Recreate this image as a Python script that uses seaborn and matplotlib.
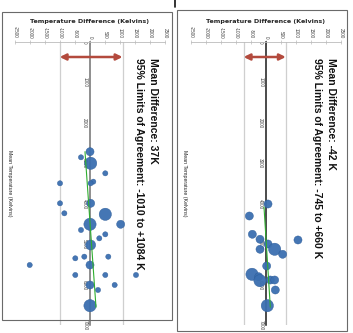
import numpy as np
import pandas as pd
import matplotlib
matplotlib.use("Agg")
import matplotlib.pyplot as plt
from matplotlib.patches import Rectangle
from matplotlib.lines import Line2D
import seaborn as sns

# ---------------- data ----------------
# Panel 1
p1_temp = [2713, 2852, 3000, 3248, 3495, 3455, 3495, 3990, 3990, 4237, 4262, 4509, 4650, 4509,
           4757, 4856, 5021, 5350, 5310, 5310, 5516, 5516, 5763, 5763, 5763, 6010, 6010, 6134, 6522]
p1_diff = [0, -300, 22, 510, -1000, 110, 20, -1000, 22, -855, 510, 1022, -300, 0,
           510, 310, 22, -490, -190, 610, -2010, 0, 1533, -490, 510, 822, 0, 267, 0]
p1_size = [2, 1, 3, 1, 1, 1, 1, 1, 2, 1, 3, 2, 1, 3,
           1, 1, 2.5, 1, 1, 1, 1, 2, 1, 1, 1, 1, 2, 1, 3]
p1_trend_temp = [2713, 6560]
p1_trend_diff = [-167, 200]
p1_mean = 37
p1_lo, p1_hi = -1010, 1084
p1_text = "Mean Difference: 37K\n95% Limits of Agreement: -1010 to +1084 K"

# Panel 2
p2_temp = [4007, 4304, 4756, 4897, 4880, 4996, 5127, 5127, 5251, 5540, 5746, 5805, 5904, 5887,
           5887, 6134, 6522]
p2_diff = [67, -555, -455, 1066, -200, 67, -200, 289, 555, 22, -466, -244, -200, 144,
           289, 311, 44]
p2_size = [2, 2, 2, 2, 2, 2, 2, 3, 2, 2, 3, 2, 3, 2, 2, 2, 3]
p2_trend_temp = [4080, 6560]
p2_trend_diff = [-67, 144]
p2_mean = -42
p2_lo, p2_hi = -745, 660
p2_text = "Mean Difference: -42 K\n95% Limits of Agreement: -745 to +660 K"

diff_ticks = [-2500, -2000, -1500, -1000, -500, 0, 500, 1000, 1500, 2000, 2500]
temp_ticks = [0, 1000, 2000, 3000, 4000, 5000, 6000, 7000]
x_title = "Temperature Difference (Kelvins)"
y_title = "Mean Temperature (Kelvins)"

# ---------------- style ----------------
sns.set_style("white")
plt.rcParams['font.family'] = ['Liberation Sans Narrow', 'Liberation Sans', 'DejaVu Sans']

W, H = 353, 333
fig = plt.figure(figsize=(W / 100, H / 100), dpi=100)

def fx(px):
    return px / W

def fy(py):
    return 1 - py / H

# panel frames
fig.patches.append(Rectangle((fx(2), fy(320)), fx(170), (318 - 10) / H, transform=fig.transFigure,
                             fill=False, edgecolor="#6a6a6a", lw=0.8, zorder=0))
fig.patches.append(Rectangle((fx(177), fy(331)), fx(170), (331 - 10) / H, transform=fig.transFigure,
                             fill=False, edgecolor="#6a6a6a", lw=0.8, zorder=0))
fig.lines.append(Line2D([fx(175), fx(175)], [fy(0), fy(7)], transform=fig.transFigure,
                        color="#111111", lw=1.2))

BLUE = "#3b6fb0"
SIZES = {1: 14, 2: 34, 2.5: 52, 3: 78}

def panel(left_px, temp, diff, size, t_temp, t_diff, lo, hi, text, zero_color, text_right_px, label_x_px):
    top, bottom = 42, 325
    width = 150
    ax = fig.add_axes([fx(left_px), fy(bottom), fx(width), (bottom - top) / H])
    ax.set_facecolor("none")
    df = pd.DataFrame({"diff": diff, "temp": temp, "size": size})
    # limit lines
    for v in (lo, hi):
        ax.axvline(v, color="#cfcfcf", lw=0.9, zorder=1)
    sns.scatterplot(data=df, x="diff", y="temp", size="size", sizes=SIZES, color=BLUE,
                    edgecolor="#2b5a96", linewidth=0.3, alpha=0.95, legend=False, ax=ax, zorder=3)
    sns.lineplot(x=t_diff, y=t_temp, color="#2fae2f", lw=0.8, ax=ax, zorder=4, sort=False)
    # arrow between the limits
    ax.annotate("", xy=(lo, 371), xytext=(hi, 371),
                arrowprops=dict(arrowstyle="<|-|>", color="#b34a3d", lw=1.8,
                                mutation_scale=9, shrinkA=0, shrinkB=0), zorder=5)
    ax.set_xlim(-2500, 2500)
    ax.set_ylim(7000, 0)
    # top axis
    ax.xaxis.tick_top()
    ax.xaxis.set_label_position('top')
    ax.set_xticks(diff_ticks)
    ax.set_xticklabels([str(t) for t in diff_ticks], rotation=270, fontsize=3.3, color="#444444")
    ax.tick_params(axis='x', direction='inout', length=2.5, width=0.4, color="#aaaaaa", pad=1.5)
    ax.set_xlabel(x_title, fontsize=4.6, fontweight='bold', labelpad=2.5,
                  family=['Liberation Sans Narrow', 'DejaVu Sans'])
    # zero line as left spine
    ax.spines['left'].set_position(('data', 0))
    ax.spines['left'].set_color(zero_color)
    ax.spines['left'].set_linewidth(1.1)
    ax.spines['left'].set_zorder(2)
    ax.spines['top'].set_color("#bbbbbb")
    ax.spines['top'].set_linewidth(0.6)
    ax.spines['right'].set_visible(False)
    ax.spines['bottom'].set_visible(False)
    ax.set_yticks(temp_ticks)
    ax.set_yticklabels([str(t) for t in temp_ticks], rotation=270, fontsize=3.3, color="#444444",
                       va='center')
    ax.tick_params(axis='y', length=0, pad=2)
    ax.set_ylabel("")
    # annotation text
    xr = -2500 + (text_right_px - left_px) / width * 5000
    ax.text(xr, 396, text, rotation=270, ha='right', va='top', fontsize=7.5,
            fontweight='bold', color="#111111", linespacing=1.5, multialignment='left',
            zorder=6)
    fig.text(fx(label_x_px), fy(183), y_title, rotation=270, ha='center', va='center',
             fontsize=3.8, color="#222222")
    return ax

panel(15, p1_temp, p1_diff, p1_size, p1_trend_temp, p1_trend_diff, p1_lo, p1_hi, p1_text,
      "#707070", 158, 9.5)
panel(191, p2_temp, p2_diff, p2_size, p2_trend_temp, p2_trend_diff, p2_lo, p2_hi, p2_text,
      "#1a1a1a", 336, 185)

fig.savefig("out.png", dpi=100)
